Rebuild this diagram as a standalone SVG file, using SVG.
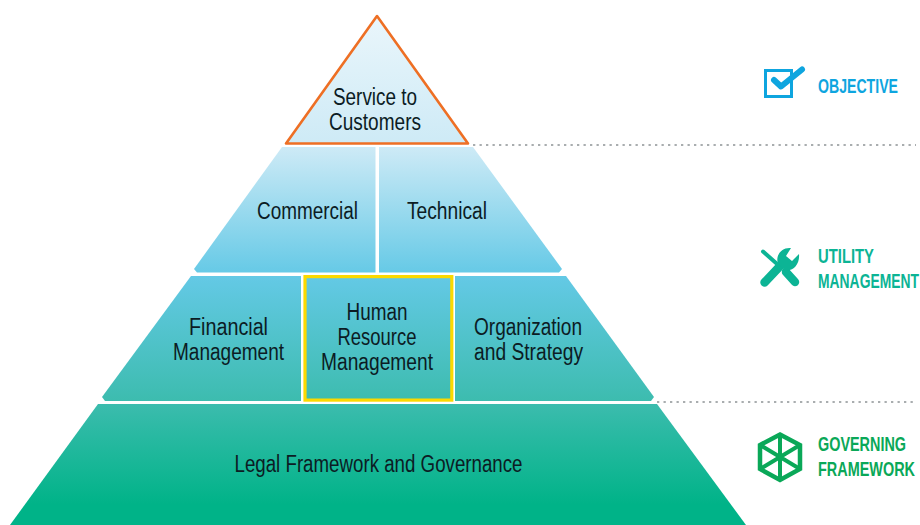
<svg xmlns="http://www.w3.org/2000/svg" width="920" height="525" viewBox="0 0 920 525">
<style>
.t{font-family:"Liberation Sans",Arial,sans-serif;font-size:23.500px;fill:#0c1c24;text-anchor:middle}
.l{font-family:"Liberation Sans",Arial,sans-serif;font-size:14px;font-weight:bold}
.dot{fill:none;stroke:#a9adaf;stroke-width:2;stroke-dasharray:2.300 4.200}
</style>
<defs>
<linearGradient id="g" gradientUnits="userSpaceOnUse" x1="0" y1="15" x2="0" y2="525">
<stop offset="0" stop-color="#eaf6fb"/>
<stop offset="0.26" stop-color="#cdeaf6"/>
<stop offset="0.51" stop-color="#64c9e6"/>
<stop offset="0.76" stop-color="#3cbcae"/>
<stop offset="0.96" stop-color="#00b388"/>
<stop offset="1" stop-color="#00b388"/>
</linearGradient>
</defs>
<g id="connectors">
<path class="dot" d="M473 145H916"/>
<path class="dot" d="M657 402H916"/>
</g>
<g id="service">
<path d="M377 16L286 143.500H468Z" fill="url(#g)" stroke="#ee6f24" stroke-width="2.600" stroke-linejoin="round"/>
<text class="t" x="375" y="105" textLength="84" lengthAdjust="spacingAndGlyphs">Service to</text>
<text class="t" x="375" y="130" textLength="92" lengthAdjust="spacingAndGlyphs">Customers</text>
</g>
<g id="commercial">
<path d="M282 147H375.500V272.500H197L194 269Z" fill="url(#g)"/>
<text class="t" x="307.500" y="219" textLength="101" lengthAdjust="spacingAndGlyphs">Commercial</text>
</g>
<g id="technical">
<path d="M379 147H473L562 269L559 272.500H379Z" fill="url(#g)"/>
<text class="t" x="447" y="219" textLength="80" lengthAdjust="spacingAndGlyphs">Technical</text>
</g>
<g id="financial">
<path d="M191 276H301V401H105L102 397Z" fill="url(#g)"/>
<text class="t" x="228.500" y="335" textLength="79" lengthAdjust="spacingAndGlyphs">Financial</text>
<text class="t" x="228.500" y="360" textLength="111" lengthAdjust="spacingAndGlyphs">Management</text>
</g>
<g id="human-resource">
<rect x="305" y="276.600" width="146.800" height="123.500" fill="url(#g)" stroke="#fcd900" stroke-width="3.200"/>
<text class="t" x="377" y="319.500" textLength="61" lengthAdjust="spacingAndGlyphs">Human</text>
<text class="t" x="377" y="344.500" textLength="79" lengthAdjust="spacingAndGlyphs">Resource</text>
<text class="t" x="377" y="369.500" textLength="112" lengthAdjust="spacingAndGlyphs">Management</text>
</g>
<g id="organization">
<path d="M455 276H566L654 397L651 401H455Z" fill="url(#g)"/>
<text class="t" x="528" y="335" textLength="108" lengthAdjust="spacingAndGlyphs">Organization</text>
<text class="t" x="528.500" y="360" textLength="109" lengthAdjust="spacingAndGlyphs">and Strategy</text>
</g>
<g id="legal">
<path d="M98 404H657L746 525H10Z" fill="url(#g)"/>
<text class="t" x="378.500" y="472" textLength="288" lengthAdjust="spacingAndGlyphs">Legal Framework and Governance</text>
</g>
<g id="objective">
<path d="M765.500 70.500H791.500V96.500H765.500Z" fill="none" stroke="#0ea5df" stroke-width="3"/>
<path d="M774 80L781 86.500L802 69.500" fill="none" stroke="#0ea5df" stroke-width="6" stroke-linecap="round" stroke-linejoin="round"/>
<text class="l" transform="translate(818 92.500) scale(1 1.5)" fill="#0ea5df" textLength="80" lengthAdjust="spacingAndGlyphs">OBJECTIVE</text>
</g>
<g id="utility">
<path d="M763 251.500L776 263" stroke="#0cb495" stroke-width="4" stroke-linecap="round" fill="none"/>
<path d="M786 272L795 282" stroke="#0cb495" stroke-width="8.500" stroke-linecap="round" fill="none"/>
<path d="M764.500 282.500L782 264" stroke="#0cb495" stroke-width="8.500" stroke-linecap="round" fill="none"/>
<path d="M791 248C782 247 775 255 778 264L785 270C793 272 800 264 799 254L792 261L786 256Z" fill="#0cb495"/>
<text class="l" transform="translate(818 263) scale(1 1.5)" fill="#0cb495" textLength="56" lengthAdjust="spacingAndGlyphs">UTILITY</text>
<text class="l" transform="translate(818 288) scale(1 1.5)" fill="#0cb495" textLength="101" lengthAdjust="spacingAndGlyphs">MANAGEMENT</text>
</g>
<g id="governing">
<path d="M780 434.500L800 445V469L780 480L760 469V445Z" fill="none" stroke="#0aa858" stroke-width="4.500"/>
<path d="M780 434.500V480M760 445L800 469M800 445L760 469" fill="none" stroke="#0aa858" stroke-width="4"/>
<text class="l" transform="translate(818 451) scale(1 1.5)" fill="#0aa858" textLength="88" lengthAdjust="spacingAndGlyphs">GOVERNING</text>
<text class="l" transform="translate(818 476) scale(1 1.5)" fill="#0aa858" textLength="97" lengthAdjust="spacingAndGlyphs">FRAMEWORK</text>
</g>
</svg>
